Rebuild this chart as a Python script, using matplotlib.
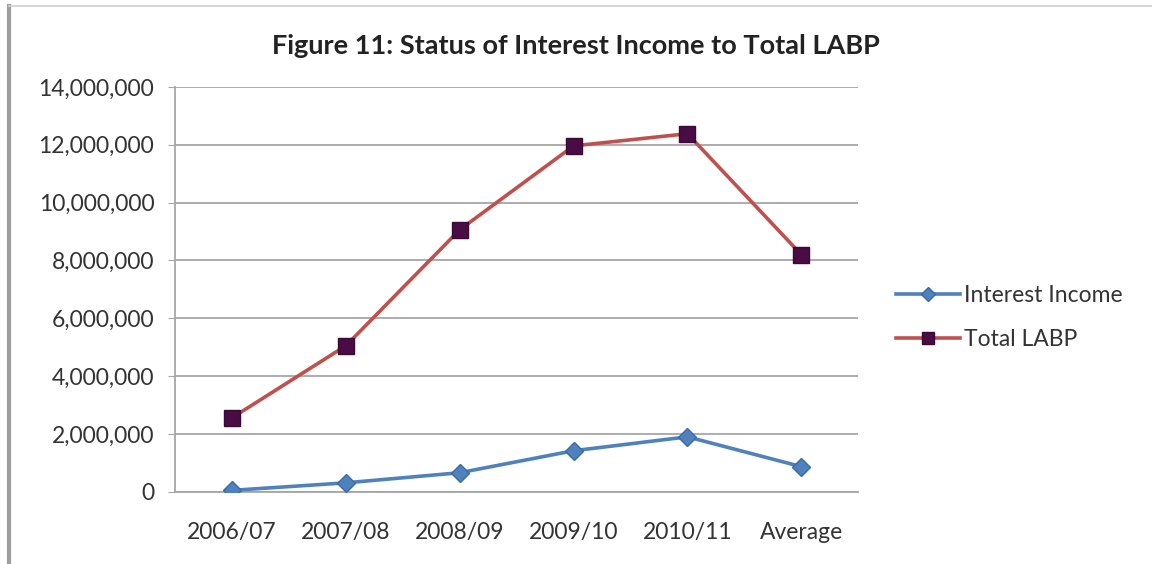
import numpy as np
import matplotlib.pyplot as plt
from matplotlib.lines import Line2D
from matplotlib.ticker import FuncFormatter

categories = ["2006/07", "2007/08", "2008/09", "2009/10", "2010/11", "Average"]
interest_income = [50000, 310000, 660000, 1420000, 1900000, 870000]
total_labp = [2560000, 5050000, 9060000, 11960000, 12380000, 8200000]
yticks = [0, 2000000, 4000000, 6000000, 8000000, 10000000, 12000000, 14000000]

plt.rcParams['font.family'] = ['Lato', 'DejaVu Sans']

fig = plt.figure(figsize=(11.52, 5.64), dpi=100)
ax = fig.add_axes([0.152, 0.128, 0.593, 0.718])

x = np.arange(len(categories))
ax.plot(x, interest_income, color='#4F81BD', lw=2.6, marker='D', ms=9,
        mfc='#4F81BD', mec='#3A6AA8', label='Interest Income', zorder=3)
ax.plot(x, total_labp, color='#C0504D', lw=2.6, marker='s', ms=11,
        mfc='#4A0C44', mec='#3A0834', label='Total LABP', zorder=3)

ax.set_xlim(-0.5, len(categories) - 0.5)
ax.set_ylim(0, 14000000)
ax.set_yticks(yticks)
ax.yaxis.set_major_formatter(FuncFormatter(lambda v, p: f"{int(v):,}"))
ax.set_xticks(x)
ax.set_xticklabels(categories)
ax.grid(axis='y', color='#A6A6A6', lw=1.3)
ax.set_axisbelow(True)
for s in ['top', 'right']:
    ax.spines[s].set_visible(False)
for s in ['left', 'bottom']:
    ax.spines[s].set_color('#A6A6A6')
    ax.spines[s].set_linewidth(1.3)
ax.tick_params(axis='y', length=5, color='#A6A6A6', labelsize=16.5, labelcolor='#333333', pad=10)
ax.tick_params(axis='x', length=0, labelsize=16.5, labelcolor='#333333', pad=22)

fig.suptitle("Figure 11: Status of Interest Income to Total LABP", x=0.5, y=0.94,
             fontsize=19.5, fontweight='bold', color='#222222')

ax.legend(loc='center left', bbox_to_anchor=(1.025, 0.43), frameon=False,
          fontsize=16.5, labelcolor='#333333', handlelength=2.8, handletextpad=0.15,
          labelspacing=1.0, markerscale=0.75)

# frame lines around the picture
fig.add_artist(Line2D([0.008, 0.008], [0.0, 0.99], color='#9E9E9E', lw=3))
fig.add_artist(Line2D([0.008, 1.0], [0.99, 0.99], color='#D0D0D0', lw=1.2))

fig.savefig('out.png', dpi=100)
